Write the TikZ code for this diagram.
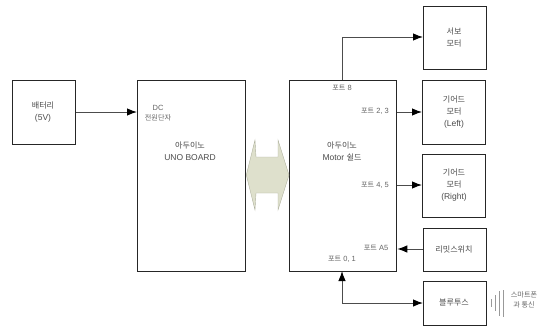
\documentclass[tikz,border=0pt]{standalone}
\usepackage{fontspec}
\setmainfont{Liberation Sans}
\newfontfamily\cjk{Noto Sans CJK KR}[Scale=0.95]
\newcommand{\hg}[1]{{\cjk #1}}
\usetikzlibrary{arrows.meta}
\definecolor{linkfill}{HTML}{DEE0CC}
\definecolor{linkedge}{HTML}{B0B2A0}
\tikzset{
 blockbox/.style={draw=black!85,line width=1.3pt,fill=white,anchor=north west,inner sep=0pt},
 conn/.style={draw=black!70,line width=1pt,-{Latex[length=10pt,width=7.5pt,black]}},
 big/.style={font=\fontsize{8.5}{12}\selectfont,text=black!70,align=center,inner sep=0pt},
 small/.style={font=\fontsize{7.5}{10}\selectfont,text=black!60,align=center,inner sep=0pt},
 wave/.style={draw=black!40,line width=0.5pt}
}
\begin{document}
\begin{tikzpicture}[x=1pt,y=-1pt]
\useasboundingbox (0,0) rectangle (540,327);
\node[blockbox,minimum width=63pt,minimum height=64pt] (bat) at (12,80) {};
\node[blockbox,minimum width=108pt,minimum height=191pt] (uno) at (137,80) {};
\node[blockbox,minimum width=107pt,minimum height=191pt] (shield) at (289,80) {};
\node[blockbox,minimum width=63pt,minimum height=63pt] (servo) at (423,6) {};
\node[blockbox,minimum width=63pt,minimum height=64pt] (gl) at (422,80) {};
\node[blockbox,minimum width=63pt,minimum height=63pt] (gr) at (422,154) {};
\node[blockbox,minimum width=63pt,minimum height=43pt] (lim) at (423,228) {};
\node[blockbox,minimum width=63pt,minimum height=44pt] (bt) at (423,281) {};
\node[big] (tbat) at (43,112) {\hg{배터리}\\(5V)};
\node[big] (tuno) at (190,151) {\hg{아두이노}\\UNO BOARD};
\node[big] (tsh) at (342,151) {\hg{아두이노}\\Motor \hg{쉴드}};
\node[big] (tservo) at (454,37) {\hg{서보}\\\hg{모터}};
\node[big] (tgl) at (454,112) {\hg{기어드}\\\hg{모터}\\(Left)};
\node[big] (tgr) at (454,185) {\hg{기어드}\\\hg{모터}\\(Right)};
\node[big] (tlim) at (454,249) {\hg{리밋스위치}};
\node[big] (tbt) at (454,303) {\hg{블루투스}};
\node[small] (dc) at (158,113) {DC\\\hg{전원단자}};
\node[small] (p8) at (342,88) {\hg{포트} 8};
\node[small] (p23) at (375,111) {\hg{포트} 2, 3};
\node[small] (p45) at (375,185) {\hg{포트} 4, 5};
\node[small] (pa5) at (376,248) {\hg{포트} A5};
\node[small] (p01) at (342,259) {\hg{포트} 0, 1};
\node[small] (phone) at (524,300) {\hg{스마트폰}\\\hg{과 통신}};
\coordinate (bat0) at (bat.east |- 0,112);
\coordinate (uno0) at (uno.west |- 0,112);
\draw[conn] (bat0) -- (uno0);
\coordinate (s8) at (342,80);
\coordinate (s8t) at (342,37);
\coordinate (sv) at (servo.west |- s8t);
\draw[conn] (s8) -- (s8t) -- (sv);
\coordinate (s23) at (shield.east |- 0,112);
\coordinate (g23) at (gl.west |- 0,112);
\draw[conn] (s23) -- (g23);
\coordinate (s45) at (shield.east |- 0,185);
\coordinate (g45) at (gr.west |- 0,185);
\draw[conn] (s45) -- (g45);
\coordinate (l0) at (lim.west |- 0,249);
\coordinate (l1) at (shield.east |- 0,249);
\draw[conn] (l0) -- (l1);
\coordinate (b0) at (bt.west |- 0,303);
\coordinate (b1) at (342,303);
\coordinate (b2) at (342,271);
\draw[conn,{Latex[length=10pt,width=7.5pt,black]}-{Latex[length=10pt,width=7.5pt,black]}] (b2) -- (b1) -- (b0);
\path[fill=linkfill,draw=linkedge,line width=0.4pt]
 (uno.east |- 0,175) -- (255,140) -- (256,157) -- (278,157) -- (278,140) -- (shield.west |- 0,175)
 -- (278,210) -- (278,193) -- (256,193) -- (255,210) -- cycle;
\draw[wave] (491,299) -- (491,307);
\draw[wave] (495,295) -- (495,311);
\draw[wave] (499,291) -- (499,316);
\draw[wave] (503,290) -- (503,317);
\end{tikzpicture}
\end{document}
